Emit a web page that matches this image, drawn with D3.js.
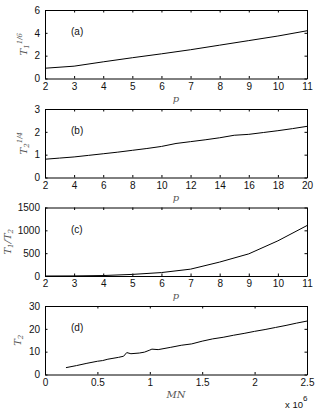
<!DOCTYPE html>
<html>
<head>
<meta charset="utf-8">
<script src="https://cdn.jsdelivr.net/npm/d3@7"></script>
<style>
  body { margin: 0; background: #fff; }
  svg text { font-family: "Liberation Sans", Arial, sans-serif; }
  .tick text { font-size: 10px; fill: #111; }
  .axlabel { font-family: "DejaVu Serif", "Liberation Serif", serif !important; font-style: italic; fill: #555; }
</style>
</head>
<body>
<script>
// panel (a): T1^(1/6) vs p
var pA = [2, 3, 4, 5, 6, 7, 8, 9, 10, 11];
var t1Root = [0.9, 1.08, 1.46, 1.82, 2.16, 2.52, 2.92, 3.32, 3.72, 4.18];

// panel (b): T2^(1/4) vs p
var pB = [2, 3, 4, 5, 6, 7, 8, 9, 10, 11, 12, 13, 14, 15, 16, 17, 18, 19, 20];
var t2Root = [0.80, 0.85, 0.90, 0.97, 1.04, 1.11, 1.19, 1.27, 1.36, 1.49, 1.57, 1.65, 1.74, 1.85, 1.89, 1.97, 2.05, 2.14, 2.24];

// panel (c): T1/T2 vs p
var pC = [2, 3, 4, 5, 6, 7, 8, 9, 10, 11];
var ratio = [0, 2, 10, 35, 75, 150, 305, 485, 770, 1105];

// panel (d): T2 vs MN
var mn = [0.2e6, 0.3e6, 0.4e6, 0.5e6, 0.55e6, 0.6e6, 0.7e6, 0.75e6, 0.78e6, 0.82e6, 0.9e6, 0.95e6,
          1.0e6, 1.02e6, 1.08e6, 1.2e6, 1.3e6, 1.4e6, 1.5e6, 1.6e6, 1.7e6, 1.8e6, 1.9e6,
          2.0e6, 2.1e6, 2.2e6, 2.3e6, 2.4e6, 2.5e6];
var t2 = [3.0, 3.9, 4.9, 5.8, 6.1, 6.7, 7.5, 8.0, 9.6, 9.1, 9.4, 9.8,
          10.7, 11.1, 10.9, 11.9, 12.8, 13.4, 14.6, 15.6, 16.3, 17.2, 18.0,
          18.9, 19.7, 20.6, 21.5, 22.5, 23.4];

var ticksP11 = [2, 3, 4, 5, 6, 7, 8, 9, 10, 11];
var ticksP20 = [2, 4, 6, 8, 10, 12, 14, 16, 18, 20];
var ticksMN = [0, 0.5e6, 1e6, 1.5e6, 2e6, 2.5e6];

var width = 318, height = 410;
var left = 45, right = 307, ph = 68.5;

var svg = d3.select("body").append("svg")
  .attr("width", width)
  .attr("height", height);

function panel(top, xs, ys, xDom, yDom, xTicks, yTicks, xFmt, tag, xLab, yLab, yLabX) {
  var x = d3.scaleLinear().domain(xDom).range([left, right]);
  var y = d3.scaleLinear().domain(yDom).range([top + ph, top]);
  var g = svg.append("g");

  g.append("g").attr("transform", "translate(0," + (top + ph) + ")")
    .call(d3.axisBottom(x).tickValues(xTicks).tickFormat(xFmt).tickSizeInner(-2.5).tickSizeOuter(0).tickPadding(4));
  g.append("g").attr("transform", "translate(0," + top + ")")
    .call(d3.axisTop(x).tickValues(xTicks).tickFormat("").tickSizeInner(-2.5).tickSizeOuter(0));
  g.append("g").attr("transform", "translate(" + left + ",0)")
    .call(d3.axisLeft(y).tickValues(yTicks).tickFormat(d3.format("d")).tickSizeInner(-2.5).tickSizeOuter(0).tickPadding(5));
  g.append("g").attr("transform", "translate(" + right + ",0)")
    .call(d3.axisRight(y).tickValues(yTicks).tickFormat("").tickSizeInner(-2.5).tickSizeOuter(0));
  g.selectAll(".domain").attr("stroke", "#000");
  g.selectAll(".tick line").attr("stroke", "#000");

  var line = d3.line().x(function(d) { return x(d[0]); }).y(function(d) { return y(d[1]); });
  g.append("path")
    .datum(d3.zip(xs, ys))
    .attr("fill", "none")
    .attr("stroke", "#000")
    .attr("stroke-width", 1)
    .attr("d", line);

  g.append("text").attr("x", 71).attr("y", top + 25)
    .attr("font-size", 10).attr("fill", "#111").text(tag);

  var xl = g.append("text").attr("class", "axlabel")
    .attr("x", (left + right) / 2).attr("y", top + ph + 23)
    .attr("text-anchor", "middle").attr("font-size", 10);
  xLab(xl);

  var yl = g.append("text").attr("class", "axlabel")
    .attr("transform", "translate(" + yLabX + "," + (top + ph / 2) + ") rotate(-90)")
    .attr("text-anchor", "middle").attr("font-size", 10);
  yLab(yl);
}

function pLabel(t) { t.text("p"); }

panel(10, pA, t1Root, [2, 11], [0, 6], ticksP11, [0, 2, 4, 6], d3.format("d"), "(a)", pLabel,
  function(t) {
    t.append("tspan").text("T");
    t.append("tspan").attr("font-size", 7).attr("dy", 2).text("1");
    t.append("tspan").attr("font-size", 7).attr("dy", -7).text("1/6");
  }, 27);

panel(109, pB, t2Root, [2, 20], [0, 3], ticksP20, [0, 1, 2, 3], d3.format("d"), "(b)", pLabel,
  function(t) {
    t.append("tspan").text("T");
    t.append("tspan").attr("font-size", 7).attr("dy", 2).text("2");
    t.append("tspan").attr("font-size", 7).attr("dy", -7).text("1/4");
  }, 27);

panel(207.5, pC, ratio, [2, 11], [0, 1500], ticksP11, [0, 500, 1000, 1500], d3.format("d"), "(c)", pLabel,
  function(t) {
    t.append("tspan").text("T");
    t.append("tspan").attr("font-size", 7).attr("dy", 2).text("1");
    t.append("tspan").attr("dy", -2).text("/T");
    t.append("tspan").attr("font-size", 7).attr("dy", 2).text("2");
  }, 11);

panel(306, mn, t2, [0, 2.5e6], [0, 30], ticksMN, [0, 10, 20, 30], function(d) { return d3.format("~g")(d / 1e6); }, "(d)",
  function(t) { t.text("MN"); },
  function(t) {
    t.append("tspan").text("T");
    t.append("tspan").attr("font-size", 7).attr("dy", 2).text("2");
  }, 21);

// exponent note under panel (d)
var ex = svg.append("text").attr("x", 285).attr("y", 408).attr("font-size", 9.5).attr("fill", "#111");
ex.append("tspan").text("x 10");
ex.append("tspan").attr("font-size", 8).attr("dy", -7).text("6");
</script>
</body>
</html>
